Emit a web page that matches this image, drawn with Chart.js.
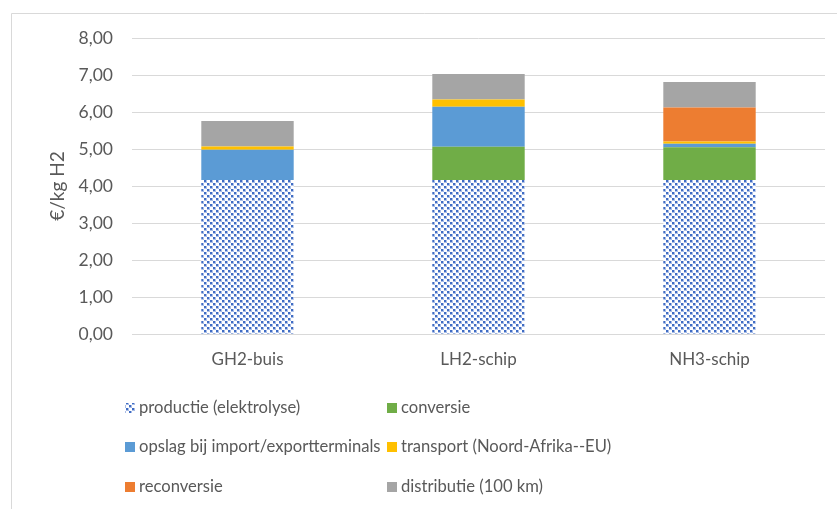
<!DOCTYPE html>
<html><head><meta charset="utf-8">
<script src="https://cdn.jsdelivr.net/npm/chart.js@4"></script>
<style>html,body{margin:0;padding:0;background:#fff}#wrap{width:837px;height:509px;position:relative}</style>
</head><body><div id="wrap"><canvas id="c"></canvas></div>
<script>
const categories = ['GH2-buis', 'LH2-schip', 'NH3-schip'];
const seriesLabels = ['productie (elektrolyse)', 'conversie', 'opslag bij import/exportterminals', 'transport (Noord-Afrika--EU)', 'reconversie', 'distributie (100 km)'];
const productie   = [4.16, 4.16, 4.16];
const conversie   = [0.00, 0.90, 0.89];
const opslag      = [0.82, 1.08, 0.09];
const transport   = [0.09, 0.20, 0.06];
const reconversie = [0.00, 0.00, 0.92];
const distributie = [0.69, 0.69, 0.69];
const yTickLabels = ['0,00', '1,00', '2,00', '3,00', '4,00', '5,00', '6,00', '7,00', '8,00'];

const FONT = 'Lato';
const TXT = '#595959';
const canvas = document.getElementById('c');
const ctx0 = canvas.getContext('2d');

function makeHatch() {
  const off = document.createElement('canvas');
  off.width = 6; off.height = 6;
  const g = off.getContext('2d');
  g.fillStyle = '#ffffff'; g.fillRect(0, 0, 6, 6);
  [[0, 0], [3, 3]].forEach(([x, y]) => {
    g.fillStyle = '#a9bde6';
    g.fillRect(x, y, 3, 3);
    g.fillStyle = '#3f6cc4';
    g.fillRect(x, y, 2, 2);
  });
  return ctx0.createPattern(off, 'repeat');
}
const hatch = makeHatch();
const seriesValues = [productie, conversie, opslag, transport, reconversie, distributie];
const seriesColors = [hatch, '#70AD47', '#5B9BD5', '#FFC000', '#ED7D31', '#A5A5A5'];

const frame = {
  id: 'frame',
  beforeDraw(chart) {
    const c = chart.ctx;
    c.save();
    c.fillStyle = '#fff'; c.fillRect(0, 0, chart.width, chart.height);
    c.strokeStyle = '#d9d9d9'; c.lineWidth = 1;
    c.beginPath();
    c.moveTo(11.5, chart.height); c.lineTo(11.5, 13.5); c.lineTo(chart.width, 13.5);
    c.stroke();
    c.restore();
  }
};

const customLegend = {
  id: 'customLegend',
  afterDraw(chart) {
    const c = chart.ctx;
    const cols = [125, 387];
    const rows = [408, 447, 487];
    c.save();
    chart.data.datasets.forEach((ds, i) => {
      const x = cols[i % 2], y = rows[Math.floor(i / 2)];
      c.fillStyle = ds.backgroundColor;
      c.fillRect(x, y - 5, 10, 10);
      c.fillStyle = TXT;
      c.font = '16.6px ' + FONT;
      c.textBaseline = 'middle';
      c.textAlign = 'left';
      c.fillText(ds.label, x + 14, y);
    });
    c.restore();
  }
};

new Chart(canvas, {
  type: 'bar',
  data: {
    labels: categories,
    datasets: seriesLabels.map((lab, i) => ({
      label: lab,
      data: seriesValues[i],
      backgroundColor: seriesColors[i],
      borderWidth: 0,
      barPercentage: 0.4,
      categoryPercentage: 1.0
    }))
  },
  options: {
    responsive: true,
    maintainAspectRatio: false,
    animation: false,
    layout: { padding: { left: 12, right: 12, top: 38, bottom: 135 } },
    plugins: { legend: { display: false }, tooltip: { enabled: false } },
    scales: {
      x: {
        stacked: true,
        grid: { display: false, drawTicks: false },
        border: { display: false },
        ticks: { color: TXT, font: { family: FONT, size: 17 }, padding: 15 },
        afterFit(s) { s.height = 40; }
      },
      y: {
        stacked: true,
        min: 0, max: 8,
        ticks: {
          stepSize: 1, color: TXT, font: { family: FONT, size: 17.5 }, padding: 19,
          callback: (v, i) => yTickLabels[i]
        },
        grid: { color: '#d9d9d9', lineWidth: 1, drawTicks: false },
        border: { display: false },
        title: { display: true, text: '€/kg H2', color: TXT, font: { family: FONT, size: 19 }, padding: { top: 34, bottom: 0 } },
        afterFit(s) { s.width = 120; }
      }
    }
  },
  plugins: [frame, customLegend]
});
</script></body></html>
